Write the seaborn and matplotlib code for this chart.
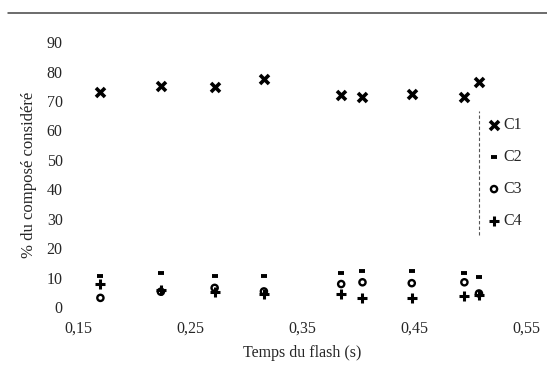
import matplotlib
matplotlib.use("Agg")
import matplotlib.pyplot as plt
import seaborn as sns
from matplotlib.lines import Line2D

# data
temps = [0.170, 0.224, 0.272, 0.316, 0.385, 0.404, 0.448, 0.495, 0.508]
c1 = [73.0, 75.2, 74.6, 77.4, 72.0, 71.2, 72.2, 71.2, 76.6]
c2 = [10.6, 11.6, 10.6, 10.6, 11.7, 12.3, 12.3, 11.7, 10.3]
c3 = [3.1, 5.2, 6.5, 5.3, 7.8, 8.4, 8.1, 8.4, 4.6]
c4 = [7.8, 5.8, 5.0, 4.5, 4.3, 3.1, 3.1, 3.7, 4.0]

x_ticks = [0.15, 0.25, 0.35, 0.45, 0.55]
x_ticklabels = ["0,15", "0,25", "0,35", "0,45", "0,55"]
y_ticks = [0, 10, 20, 30, 40, 50, 60, 70, 80, 90]

sns.set_style("white")
plt.rcParams['font.family'] = ['Liberation Serif', 'DejaVu Serif']
plt.rcParams['font.size'] = 11.5

fig = plt.figure(figsize=(5.47, 3.69), dpi=100)
ax = fig.add_axes([0.1426, 0.168, 0.819, 0.718])

# one call per series so each marker gets its own look
sns.scatterplot(x=temps, y=c1, marker='x', s=42, linewidth=2.6, color='black', ax=ax, label='C1')
sns.scatterplot(x=temps, y=c2, marker='_', s=25, linewidth=2.8, color='black', ax=ax, label='C2')
sns.scatterplot(x=temps, y=c3, marker='o', s=20, linewidth=1.7, facecolor='none', edgecolor='black', ax=ax, label='C3')
sns.scatterplot(x=temps, y=c4, marker='+', s=50, linewidth=2.2, color='black', ax=ax, label='C4')

ax.set_xlim(0.15, 0.55)
ax.set_ylim(0, 90)
ax.set_xticks(x_ticks)
ax.set_xticklabels(x_ticklabels)
ax.set_yticks(y_ticks)

for s in ax.spines.values():
    s.set_visible(False)
ax.tick_params(axis='y', length=2, width=0.8, color='#aaaaaa', pad=9, labelsize=11.5)
ax.tick_params(axis='x', length=2, width=0.8, color='#aaaaaa', pad=8, labelsize=11.5)
ax.grid(False)

ax.set_xlabel("Temps du flash (s)", fontsize=11.5, labelpad=6)
ax.set_ylabel("% du composé considéré", fontsize=12, labelpad=7)

leg = ax.legend(loc='upper left', bbox_to_anchor=(0.893, 0.74), frameon=False,
                handletextpad=0.0, handlelength=1.2, labelspacing=1.0,
                borderaxespad=0, fontsize=11.5)

# dashed left border of the legend box (the rest is lost in the scan)
ax.plot([0.895, 0.895], [0.27, 0.74], transform=ax.transAxes, color='#555555',
        linestyle=(0, (3, 2)), linewidth=0.8, clip_on=False)

# rule along the top of the page
fig.add_artist(Line2D([0.015, 1.0], [0.965, 0.965], color='#444444', linewidth=1.1))

plt.savefig('out.png', dpi=100, facecolor='white')
